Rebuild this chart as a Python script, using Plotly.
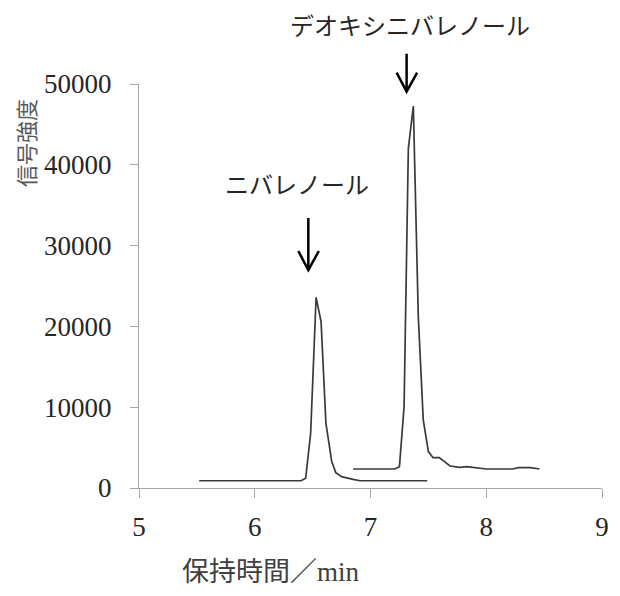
import plotly.graph_objects as go

# --- data ---
niv_time = [5.52, 6.40, 6.44, 6.483, 6.53, 6.573, 6.615, 6.665, 6.70, 6.75, 6.85, 6.91, 7.49]
niv_signal = [900, 900, 1200, 6770, 23600, 20580, 8000, 3260, 1900, 1400, 1070, 900, 900]

don_time = [6.85, 7.21, 7.25, 7.29, 7.327, 7.37, 7.413, 7.456, 7.50, 7.54, 7.594,
            7.687, 7.77, 7.83, 8.0, 8.23, 8.28, 8.38, 8.46]
don_signal = [2350, 2350, 2640, 10060, 42040, 47280, 21200, 8400, 4500, 3750, 3750,
              2720, 2560, 2640, 2350, 2350, 2520, 2520, 2350]

x_ticks = [5, 6, 7, 8, 9]
y_ticks = [0, 10000, 20000, 30000, 40000, 50000]

labels = ["ニバレノール", "デオキシニバレノール"]
# positions in paper fractions
label_pos = [(0.341, 0.7525), (0.585, 1.1485)]
arrow_tips = [(0.3657, 0.5396), (0.578, 0.981)]
arrow_len = [52, 38]

x_title = "保持時間／min"
y_title = "信号強度"

SERIF = "Liberation Serif, Noto Sans CJK JP, serif"
JP = "Noto Sans CJK JP, sans-serif"
LINE = "#3a3a3a"

fig = go.Figure()
fig.add_trace(go.Scatter(x=niv_time, y=niv_signal, mode="lines",
                         line=dict(color=LINE, width=1.7), showlegend=False))
fig.add_trace(go.Scatter(x=don_time, y=don_signal, mode="lines",
                         line=dict(color=LINE, width=1.7), showlegend=False))

for (tx, ty), L in zip(arrow_tips, arrow_len):
    fig.add_shape(type="path", xref="paper", yref="paper", xsizemode="pixel", ysizemode="pixel",
                  xanchor=tx, yanchor=ty, path=f"M0,0 L0,{L}",
                  line=dict(color="black", width=2.5))
    fig.add_shape(type="path", xref="paper", yref="paper", xsizemode="pixel", ysizemode="pixel",
                  xanchor=tx, yanchor=ty, path="M-10,19 L0,0 L10.5,19",
                  line=dict(color="black", width=2.5))

for txt, (lx, ly) in zip(labels, label_pos):
    fig.add_annotation(x=lx, y=ly, xref="paper", yref="paper", text=txt, showarrow=False,
                       font=dict(family=JP, size=24, color="#262626"),
                       xanchor="center", yanchor="middle")

fig.add_annotation(x=-0.2462, y=0.854, xref="paper", yref="paper", text=y_title,
                   textangle=-90, showarrow=False, borderpad=0,
                   font=dict(family=JP, size=22, color="#595959"),
                   xanchor="center", yanchor="middle")
fig.add_annotation(x=0.285, y=-0.208, xref="paper", yref="paper", text=x_title,
                   showarrow=False, font=dict(family=SERIF, size=27, color="#404040"),
                   xanchor="center", yanchor="middle")

fig.update_xaxes(range=[5, 9], tickvals=x_ticks, ticktext=[str(v) for v in x_ticks],
                 showgrid=False, zeroline=False, showline=True, linecolor="#a6a6a6",
                 linewidth=1, ticks="outside", ticklen=9, tickcolor="#a6a6a6",
                 tickfont=dict(family=SERIF, size=27, color="#262626"),
                 ticklabelstandoff=6)
fig.update_yaxes(range=[0, 50000], tickvals=y_ticks, ticktext=[str(v) for v in y_ticks],
                 showgrid=False, zeroline=False, showline=True, linecolor="#a6a6a6",
                 linewidth=1, ticks="outside", ticklen=8, tickcolor="#a6a6a6",
                 tickfont=dict(family=SERIF, size=27, color="#262626"),
                 ticklabelstandoff=13)

# the page has an 8px body margin, so margins are reduced by 8 px
fig.update_layout(width=620, height=596, plot_bgcolor="white", paper_bgcolor="white",
                  margin=dict(l=131, r=26, t=76, b=116))

fig.write_html("out.html")
